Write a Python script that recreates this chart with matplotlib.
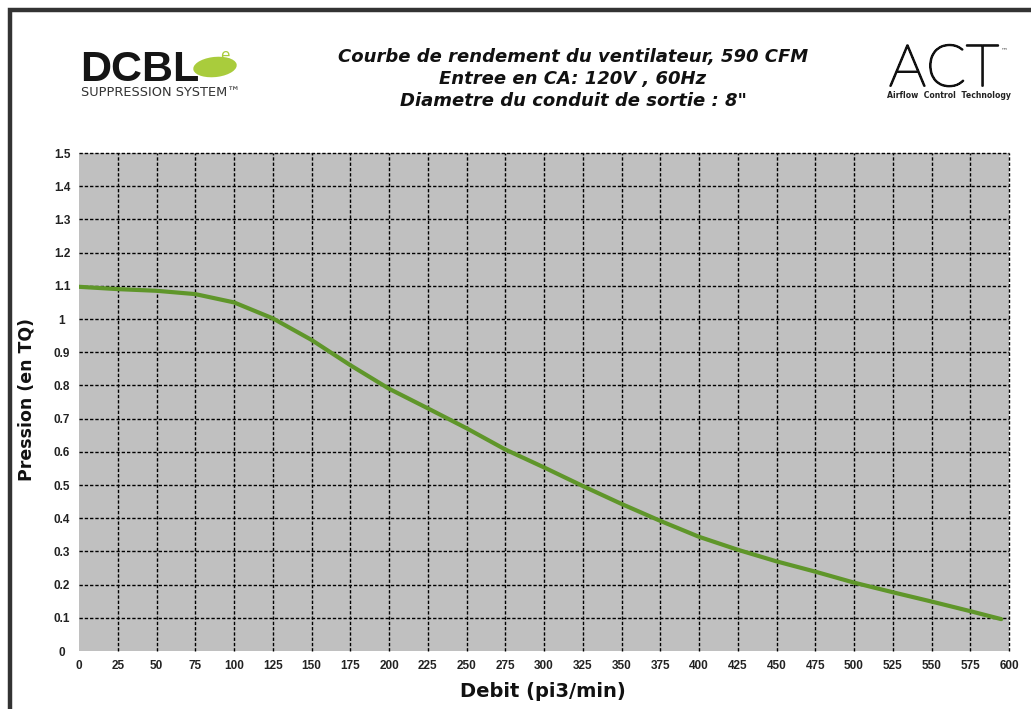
import matplotlib
matplotlib.use("Agg")
import matplotlib.pyplot as plt
from matplotlib.patches import Rectangle, Ellipse
from matplotlib.ticker import FixedLocator
import matplotlib.patheffects as pe

# ---- data ----
debit = [0, 25, 50, 75, 100, 125, 150, 175, 200, 225, 250, 275, 300, 325,
         350, 375, 400, 425, 450, 475, 500, 525, 550, 575, 595]
pression = [1.097, 1.09, 1.085, 1.075, 1.05, 1.002, 0.937, 0.861, 0.79, 0.731,
            0.671, 0.607, 0.553, 0.497, 0.443, 0.392, 0.344, 0.305, 0.27,
            0.239, 0.206, 0.177, 0.149, 0.12, 0.096]
x_ticks = list(range(0, 601, 25))
y_ticks = [0, 0.1, 0.2, 0.3, 0.4, 0.5, 0.6, 0.7, 0.8, 0.9, 1, 1.1, 1.2, 1.3, 1.4, 1.5]
y_tick_labels = ["0", "0.1", "0.2", "0.3", "0.4", "0.5", "0.6", "0.7", "0.8",
                 "0.9", "1", "1.1", "1.2", "1.3", "1.4", "1.5"]
title_lines = ["Courbe de rendement du ventilateur, 590 CFM",
               "Entree en CA: 120V , 60Hz",
               "Diametre du conduit de sortie : 8\""]
x_label = "Debit (pi3/min)"
y_label = "Pression (en TQ)"

W, H = 1031, 709
fig = plt.figure(figsize=(W / 100, H / 100), dpi=100)
fig.patch.set_facecolor("white")

def fx(px):
    return px / W

def fy(py):
    return 1 - py / H

# outer frame (cropped on right/bottom)
fig.add_artist(Rectangle((fx(10), fy(760)), fx(1100), fy(10) - fy(760),
                         transform=fig.transFigure, fill=False,
                         edgecolor="#333333", linewidth=3.2))

AX_L, AX_R, AX_T, AX_B = 79, 1009, 153, 651
ax = fig.add_axes([fx(AX_L), fy(AX_B), fx(AX_R) - fx(AX_L), fy(AX_T) - fy(AX_B)])
ax.set_facecolor("#c0c0c0")
ax.set_xlim(0, 600)
ax.set_ylim(0, 1.5)
for s in ax.spines.values():
    s.set_visible(False)

ax.xaxis.set_major_locator(FixedLocator(x_ticks))
ax.yaxis.set_major_locator(FixedLocator(y_ticks))
ax.set_xticklabels([str(v) for v in x_ticks])
ax.set_yticklabels(y_tick_labels)
ax.tick_params(length=0)
ax.tick_params(axis="x", pad=6.5)
ax.tick_params(axis="y", pad=12.2)
for lab in ax.get_xticklabels() + ax.get_yticklabels():
    lab.set_fontfamily("Liberation Sans")
    lab.set_fontweight("bold")
    lab.set_fontsize(8.5)
    lab.set_color("#222222")
for lab in ax.get_yticklabels():
    lab.set_horizontalalignment("center")

# grid: dashed lines at every tick except the 0 ones
dash = (0, (2.4, 1.4))
for xv in x_ticks[1:]:
    ax.axvline(xv, color="black", linestyle=dash, linewidth=1.0, zorder=1,
               clip_on=False)
for yv in y_ticks[1:]:
    ax.axhline(yv, color="black", linestyle=dash, linewidth=1.0, zorder=1,
               clip_on=False)

ax.plot(debit, pression, color="#5f962a", linewidth=3.0, solid_capstyle="round",
        zorder=3)

ax.set_xlabel(x_label, fontsize=14, fontweight="bold", family="DejaVu Sans",
              color="#111111")
ax.set_ylabel(y_label, fontsize=12.5, fontweight="bold", family="DejaVu Sans",
              color="#111111")
ax.xaxis.set_label_coords((543 - AX_L) / (AX_R - AX_L), -(682 - AX_B) / (AX_B - AX_T))
ax.yaxis.set_label_coords(-(AX_L - 35) / (AX_R - AX_L), (AX_B - 399) / (AX_B - AX_T))

# title
for i, line in enumerate(title_lines):
    fig.text(fx(573), fy(57 + 22 * i), line, ha="center", va="center",
             fontsize=13, fontweight="bold", fontstyle="italic",
             family="DejaVu Sans", color="#111111")

# DCBL logo
fig.text(fx(80), fy(81), "DCBL", ha="left", va="baseline", fontsize=31,
         fontweight="bold", family="Liberation Sans", color="#151515")
fig.add_artist(Ellipse((fx(215), fy(67)), fx(44), fy(56) - fy(76), angle=12,
                       transform=fig.transFigure, facecolor="#a9cc3c",
                       edgecolor="none"))
fig.text(fx(225), fy(55), "e", ha="center", va="center", fontsize=11,
         color="#a9cc3c", family="DejaVu Sans")
fig.text(fx(81), fy(92), "SUPPRESSION SYSTEM\u2122", ha="left", va="center",
         fontsize=9.3, family="DejaVu Sans", color="#333333")

# ACT logo
fig.text(fx(944), fy(86), "ACT", ha="center", va="baseline", fontsize=42,
         fontweight="light", family="Lato", color="#111111",
         path_effects=[pe.withStroke(linewidth=1.3, foreground="#111111")])
fig.text(fx(1005), fy(50), "\u2122", ha="center", va="center", fontsize=5,
         color="#555555")
fig.text(fx(949), fy(96), "Airflow  Control  Technology", ha="center", va="center",
         fontsize=5.6, fontweight="bold", family="DejaVu Sans", color="#222222")

fig.savefig("out.png", dpi=100, facecolor="white")
